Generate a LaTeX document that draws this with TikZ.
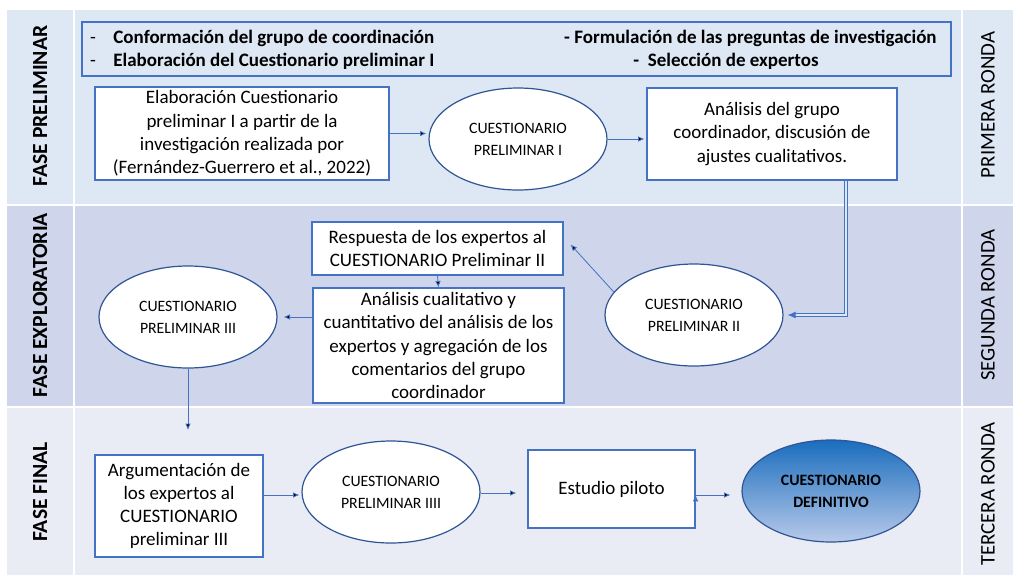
\documentclass[tikz,border=0pt]{standalone}
\usepackage{fontspec}
\setmainfont{Carlito}
\usetikzlibrary{shapes.geometric, arrows.meta, calc}
\definecolor{azul}{HTML}{4472C4}
\definecolor{azulosc}{HTML}{2F5597}
\definecolor{fila1}{HTML}{DEE8F4}
\definecolor{fila2}{HTML}{CFD5EA}
\definecolor{fila3}{HTML}{E9EBF5}
\definecolor{degarriba}{HTML}{1A6DBD}
\definecolor{degabajo}{HTML}{B8CAEA}
\newcommand{\texto}{\fontsize{9.5}{11.6}\selectfont}
\newcommand{\textoel}{\fontsize{7.9}{11}\selectfont}
\newcommand{\textofase}{\fontsize{10.8}{12}\selectfont}
\newcommand{\textoronda}{\fontsize{10.4}{12}\selectfont}

\begin{document}
\begin{tikzpicture}[x=0.5pt, y=-0.5pt, >={Latex[length=3.2pt,width=2.8pt]}]
\tikzstyle{caja}=[draw=azul, fill=white, line width=0.6pt, align=center, inner sep=0pt, font=\texto]
\tikzstyle{elipse}=[ellipse, draw=azulosc, fill=white, line width=0.6pt, align=center, inner sep=0pt, minimum width=89pt, minimum height=51pt, font=\textoel]
\tikzstyle{flecha}=[->, draw=azul, line width=0.4pt]
\tikzstyle{fase}=[rotate=90, font=\textofase\bfseries]
\tikzstyle{ronda}=[rotate=90, font=\textoronda]
\tikzstyle{tarea}=[font=\texto\bfseries, inner sep=0pt]
\useasboundingbox (0,0) rectangle (1013,575);

\fill[fila1] (7,10) rectangle (1013,205);
\fill[fila2] (7,205) rectangle (1013,407);
\fill[fila3] (7,407) rectangle (1013,575);
\draw[white, line width=1pt] (74,10) -- (74,575) (962,10) -- (962,575)
  (7,205) -- (1013,205) (7,407) -- (1013,407);

\node[fase]  (f1) at (40,106) {FASE PRELIMINAR};
\node[fase]  (f2) at (40,305) {FASE EXPLORATORIA};
\node[fase]  (f3) at (40,492) {FASE FINAL};
\node[ronda] (r1) at (988,105) {PRIMERA RONDA};
\node[ronda] (r2) at (988,305) {SEGUNDA RONDA};
\node[ronda] (r3) at (988,494) {TERCERA RONDA};

\node[draw=azul, fill=fila1, line width=0.6pt, minimum width=434.5pt, minimum height=27pt] (tareas) at (516.5,49) {};
\node[tarea, font=\texto, anchor=base] (g1) at (93,43) {-};
\node[tarea, font=\texto, anchor=base] (g2) at (93,66) {-};
\node[tarea, anchor=base west] (t1) at (113,43) {Conformación del grupo de coordinación};
\node[tarea, anchor=base west] (t2) at (113,66) {Elaboración del Cuestionario preliminar I};
\node[tarea, anchor=base east] (t3) at (937,43) {- Formulación de las preguntas de investigación};
\node[tarea, anchor=base west] (t4) at (633,66) {-\ \ Selección de expertos};

\node[caja, minimum width=147pt, minimum height=46.5pt] (ini) at (242,133.5)
  {Elaboración Cuestionario\\preliminar I a partir de la\\investigación realizada por\\(Fernández-Guerrero et al., 2022)};
\node[elipse] (cp1) at (518,139) {CUESTIONARIO\\PRELIMINAR I};
\node[caja, minimum width=125pt, minimum height=46pt] (ajuste) at (772,134)
  {Análisis del grupo\\coordinador, discusión de\\ajustes cualitativos.};

\node[elipse] (cp2) at (694,315) {CUESTIONARIO\\PRELIMINAR II};
\node[caja, minimum width=125.5pt, minimum height=26.5pt] (resp) at (437.5,248.5)
  {Respuesta de los expertos al\\CUESTIONARIO Preliminar II};
\node[caja, minimum width=125.5pt, minimum height=57.5pt] (anal) at (438.5,345.5)
  {Análisis cualitativo y\\cuantitativo del análisis de los\\expertos y agregación de los\\comentarios del grupo\\coordinador};
\node[elipse] (cp3) at (188,317) {CUESTIONARIO\\PRELIMINAR III};
\coordinate (baja) at (188,430);

\node[caja, minimum width=84pt, minimum height=51pt] (arg) at (179,506)
  {Argumentación de\\los expertos al\\CUESTIONARIO\\preliminar III};
\node[elipse] (cp4) at (391,492) {CUESTIONARIO\\PRELIMINAR IIII};
\node[caja, minimum width=83.5pt, minimum height=39pt] (piloto) at (611.5,489) {Estudio piloto};
\node[elipse, fill=none, top color=degarriba, bottom color=degabajo, font=\textoel\bfseries] (defin) at (831,491) {CUESTIONARIO\\DEFINITIVO};

\draw[azul, line width=0.4pt, double=fila1, double distance=0.8pt, -{Latex[length=4pt,width=3.5pt]}]
  ([xshift=37pt]ajuste.south) |- ([xshift=2pt]cp2.east);

\path[flecha]
(ini.east)                     edge  ([xshift=-1pt]cp1.west |- ini.east)
(cp1.east)                     edge  ([xshift=-1pt]cp1.east -| ajuste.west)
(cp2.164)                      edge  ([xshift=3.5pt,yshift=2pt]resp.east)
(resp.south)                   edge  (anal.north)
(cp3.east -| anal.west)        edge  ([xshift=3pt]cp3.east)
(cp3.south)                    edge  (baja)
([yshift=5.5pt]arg.east)       edge  ([xshift=-1pt,yshift=5.5pt]arg.east -| cp4.west)
([yshift=-0.5pt]cp4.east)      edge  ([xshift=-5.5pt,yshift=-0.5pt]cp4.east -| piloto.west)
([yshift=-3pt]piloto.east)     edge  ([xshift=-5.5pt,yshift=-3pt]piloto.east -| defin.west);

\end{tikzpicture}
\end{document}
